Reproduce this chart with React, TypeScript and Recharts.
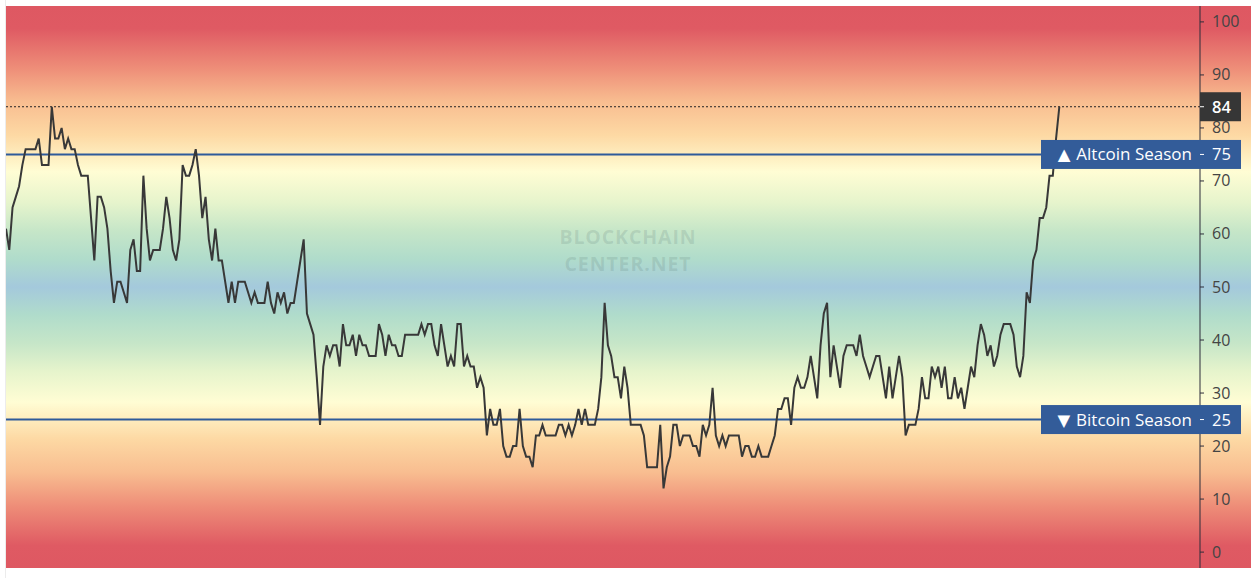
import { LineChart, Line, XAxis, YAxis, ReferenceLine } from "recharts";

// Altcoin season index in four stretches
const indexPart1 = [
  61, 57, 65, 67, 69, 73, 76, 76, 76, 76,
  78, 73, 73, 73, 84, 78, 78, 80, 76, 78,
  76, 76, 73, 71, 71, 71, 63, 55, 67, 67,
  65, 61, 53, 47, 51, 51, 49, 47, 57, 59,
  53, 53, 71, 61, 55, 57, 57, 57, 61, 67,
  63, 57, 55, 59, 73, 71, 71, 73, 76, 71,
  63, 67, 59, 55, 61, 55, 55, 51, 47, 51,
  47, 51, 51, 51, 49, 47, 49, 47, 47, 47,
  51, 47, 45, 49, 47, 49, 45, 47, 47, 51,
  55, 59, 45, 43, 41,
];
const indexPart2 = [
  33, 24, 35, 39, 37, 39, 39, 35, 43, 39,
  39, 41, 37, 41, 39, 39, 37, 37, 37, 43,
  41, 37, 41, 39, 39, 37, 37, 41, 41, 41,
  41, 41, 43, 41, 43, 43, 39, 37, 43, 39,
  35, 37, 35, 43, 43, 35, 37, 35, 35, 31,
  33, 31, 22, 27, 24, 24, 27, 20, 18, 18,
  20, 20, 27, 20, 18, 18, 16, 22, 22, 24,
  22, 22, 22, 22, 24, 24, 22, 24, 22, 24,
  27, 24, 27, 24, 24, 24,
];
const indexPart3 = [
  27, 33, 47, 39, 37, 33, 33, 29, 35, 31,
  24, 24, 24, 24, 22, 16, 16, 16, 16, 24,
  12, 16, 18, 24, 24, 20, 22, 22, 22, 20,
  20, 18, 24, 22, 24, 31, 22, 20, 22, 20,
  22, 22, 22, 22, 18, 20, 20, 18, 18, 20,
  18, 18, 18, 20, 22, 27, 27, 29, 29, 24,
  31, 33, 31, 31, 33, 37, 33, 29, 39, 45,
  47, 33, 39, 35, 31, 37, 39, 39, 39, 37,
  41, 37, 35, 33, 35, 37, 37, 33, 29, 35,
  29, 33,
];
const indexPart4 = [
  37, 33, 22, 24, 24, 24, 27, 33, 29, 29,
  35, 33, 35, 31, 35, 29, 29, 33, 29, 31,
  27, 31, 35, 33, 39, 43, 41, 37, 39, 35,
  37, 41, 43, 43, 43, 41, 35, 33, 37, 49,
  47, 55, 57, 63, 63, 65, 71, 71, 78, 84,
];

const yTicks = [0, 10, 20, 30, 40, 50, 60, 70, 80, 90, 100];
const ALT_LEVEL = 75;
const BTC_LEVEL = 25;
const LATEST = 84;
const DAYS_SHOWN = 365;

const values = [...indexPart1, ...indexPart2, ...indexPart3, ...indexPart4];
const data = values.map((v, i) => ({ i, v }));

const W = 1245;
const H = 562;
const AXIS_W = 51;
const AXIS_X = W - AXIS_W;
const FONT = "'Open Sans', 'Noto Sans', sans-serif";

const bg = `linear-gradient(to bottom,
  #de5862 0%, #df5a63 4%, #ee8d78 11%, #f8bd90 17%, #fdd9a4 23%,
  #fffdd4 29.5%, #e6f4cc 35%, #c6e6c8 40%, #b0dccb 45%, #a4c9dc 50%,
  #b0dccb 55%, #c6e6c8 60%, #e6f4cc 65%, #fffdd4 70.5%, #fdd9a4 77%,
  #f8bd90 83%, #ee8d78 89%, #df5a63 96%, #de5862 100%)`;

function AxisTick(props: any) {
  const { y, payload } = props;
  const v = payload.value;
  if (v === ALT_LEVEL || v === BTC_LEVEL) {
    const arrow = v === ALT_LEVEL ? "\u25B2" : "\u25BC";
    const label = v === ALT_LEVEL ? "Altcoin Season" : "Bitcoin Season";
    return (
      <g>
        <rect x={AXIS_X - 159} y={y - 14.5} width={200} height={29} fill="#335c99" />
        <text x={AXIS_X - 8} y={y} dy={6} textAnchor="end" fill="#fff" fontSize={17} fontFamily={FONT}>
          <tspan fontFamily="'DejaVu Sans', sans-serif" fontSize={16.5}>{arrow}</tspan>
          <tspan dx={6}>{label}</tspan>
        </text>
        <line x1={AXIS_X} x2={AXIS_X + 4} y1={y} y2={y} stroke="#fff" />
        <text x={AXIS_X + 12} y={y} dy={6} fill="#fff" fontSize={16.5} fontFamily={FONT}>{v}</text>
      </g>
    );
  }
  if (v === LATEST) {
    return (
      <g>
        <rect x={AXIS_X} y={y - 14.5} width={41} height={29} fill="#363636" />
        <line x1={AXIS_X} x2={AXIS_X + 4} y1={y} y2={y} stroke="#fff" />
        <text x={AXIS_X + 12} y={y} dy={6} fill="#fff" fontSize={16.5} fontWeight={600} fontFamily={FONT}>{v}</text>
      </g>
    );
  }
  return (
    <text x={AXIS_X + 12} y={y} dy={5.5} fill="#444" fontSize={16} fontFamily={FONT}>{v}</text>
  );
}

export default function App() {
  return (
    <div style={{ position: "absolute", left: 0, top: 0, width: 1257, height: 578, background: "#fff" }}>
      <div style={{ position: "absolute", left: 5, top: 0, width: 1, height: 578, background: "#ececec" }} />
      <div style={{ position: "absolute", left: 6, top: 6, width: W, height: H, background: bg }}>
        {/* watermark */}
        <svg width={W} height={H} style={{ position: "absolute", left: 0, top: 0 }}>
          <g textAnchor="middle" fontFamily={FONT} fontWeight={700} fontSize={19.5} letterSpacing={0.9} fill="rgba(80,105,105,0.17)">
            <text x={622} y={237.5}>BLOCKCHAIN</text>
            <text x={622} y={265}>CENTER.NET</text>
          </g>
        </svg>
        <div style={{ position: "absolute", left: 0, top: 0 }}>
          <LineChart width={W} height={H} data={data} margin={{ top: 0, right: 0, bottom: 0, left: 0 }}>
            <XAxis dataKey="i" type="number" domain={[0, DAYS_SHOWN]} hide />
            <YAxis
              orientation="right"
              width={AXIS_W}
              domain={[-3, 103]}
              ticks={[...yTicks, LATEST, ALT_LEVEL, BTC_LEVEL]}
              interval={0}
              axisLine={{ stroke: "#2d2d3a" }}
              tickLine={{ stroke: "#2d2d3a" }}
              tickSize={4}
              tick={<AxisTick />}
            />
            <ReferenceLine y={LATEST} stroke="#222" strokeDasharray="2 2" strokeWidth={1} />
            <ReferenceLine y={ALT_LEVEL} stroke="#2e5a9a" strokeWidth={2} />
            <ReferenceLine y={BTC_LEVEL} stroke="#2e5a9a" strokeWidth={2} />
            <Line
              dataKey="v"
              type="linear"
              stroke="#383838"
              strokeWidth={2}
              dot={false}
              isAnimationActive={false}
            />
          </LineChart>
        </div>
      </div>
    </div>
  );
}
